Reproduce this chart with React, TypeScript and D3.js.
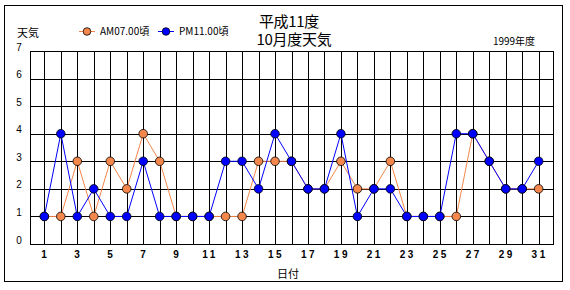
import React from "react";
import * as d3 from "d3";

const days: number[] = d3.range(1, 32);
const amValues: number[] = [1,1,3,1,3,2,4,3,1,1,1,1,1,3,3,3,2,2,3,2,2,3,1,1,1,1,4,3,2,2,2];
const pmValues: number[] = [1,4,1,2,1,1,3,1,1,1,1,3,3,2,4,3,2,2,4,1,2,2,1,1,1,4,4,3,2,2,3];
const yTicks: number[] = [0,1,2,3,4,5,6,7];
const xTickLabels: number[] = days.filter((d) => d % 2 === 1);
const seriesNames: string[] = ["AM07.00頃", "PM11.00頃"];
const titleLines: string[] = ["平成11度", "10月度天気"];

const W = 570, H = 290;
const left = 30, right = 553, top = 51, bottom = 244;
const orangeFill = "#F4874B";
const orangeLine = "#F4874B";
const blueFill = "#0000FF";
const blueLine = "#0000FF";
const jp = "'Noto Sans CJK JP', 'Noto Sans', sans-serif";
const num = "'Liberation Sans', Arial, sans-serif";

export default function App() {
  const x = d3.scalePoint<number>().domain(days).range([left, right]).padding(0.87);
  const y = d3.scaleLinear().domain([0, 7]).range([bottom, top]);
  const lineGen = d3.line<number>().x((_, i) => x(days[i]) as number).y((v) => y(v));
  const series = [
    { name: seriesNames[0], values: amValues, fill: orangeFill, stroke: orangeLine },
    { name: seriesNames[1], values: pmValues, fill: blueFill, stroke: blueLine },
  ];
  const legendX = [79, 158];
  return (
    <svg width={W} height={H} style={{ position: "absolute", left: 0, top: 0, background: "#fff" }}>
      <rect x={4.5} y={5.5} width={558} height={276} fill="#fff" stroke="#000" strokeWidth={1} />
      {yTicks.map((t) => (
        <line key={"h" + t} x1={left} x2={right} y1={Math.round(y(t)) + 0.5} y2={Math.round(y(t)) + 0.5} stroke="#000" strokeWidth={1} />
      ))}
      {days.map((d) => (
        <line key={"v" + d} x1={Math.round(x(d) as number) + 0.5} x2={Math.round(x(d) as number) + 0.5} y1={top} y2={bottom} stroke="#000" strokeWidth={1} />
      ))}
      <rect x={left + 0.5} y={top + 0.5} width={right - left} height={bottom - top} fill="none" stroke="#000" strokeWidth={1} />
      {yTicks.map((t) => (
        <text key={"yl" + t} x={19} y={y(t) - 0.5} fontSize={10} fontFamily={num} textAnchor="middle">{t}</text>
      ))}
      {xTickLabels.map((d) => (
        <text key={"xl" + d} x={(x(d) as number) + 1} y={258} fontSize={10} fontWeight="bold" fontFamily={num} textAnchor="middle" letterSpacing={2.5}>{d}</text>
      ))}
      <text x={288} y={278} fontSize={11} fontFamily={jp} textAnchor="middle">日付</text>
      {series.map((s) => (
        <g key={s.name}>
          <path d={lineGen(s.values) || ""} fill="none" stroke={s.stroke} strokeWidth={1} />
          {s.values.map((v, i) => (
            <circle key={i} cx={x(days[i]) as number} cy={y(v)} r={4.3} fill={s.fill} stroke="#000" strokeWidth={0.8} />
          ))}
        </g>
      ))}
      <text x={289} y={27} fontSize={15} fontFamily={jp} textAnchor="middle" letterSpacing={-0.3}>{titleLines[0]}</text>
      <text x={294} y={45} fontSize={15} fontFamily={jp} textAnchor="middle" letterSpacing={-0.3}>{titleLines[1]}</text>
      <text x={514} y={45} fontSize={10} fontFamily={jp} textAnchor="middle">1999年度</text>
      <text x={17} y={37} fontSize={11} fontFamily={jp}>天気</text>
      {series.map((s, i) => (
        <g key={"lg" + i}>
          <line x1={legendX[i]} x2={legendX[i] + 16} y1={31.5} y2={31.5} stroke={s.stroke} strokeWidth={1} />
          <circle cx={legendX[i] + 8} cy={31.5} r={3.8} fill={s.fill} stroke="#000" strokeWidth={0.8} />
          <text x={legendX[i] + 21} y={35} fontSize={10} fontFamily={jp}>{s.name}</text>
        </g>
      ))}
    </svg>
  );
}
